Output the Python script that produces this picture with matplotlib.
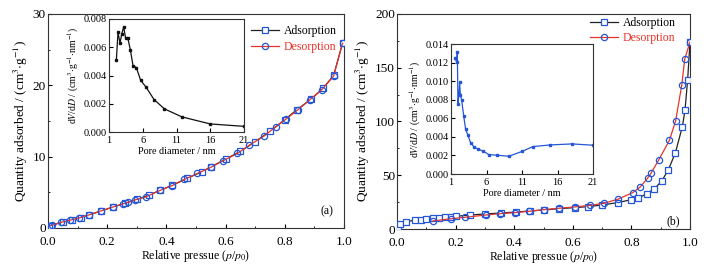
import matplotlib
matplotlib.use("Agg")
import matplotlib.pyplot as plt
from matplotlib.ticker import MultipleLocator

plt.rcParams['font.family'] = ['Liberation Serif', 'DejaVu Serif']
plt.rcParams['mathtext.fontset'] = 'stix'

# (a) isotherme
a_ads_x = [0.01, 0.05, 0.08, 0.11, 0.14, 0.18, 0.22, 0.26, 0.30, 0.34, 0.38, 0.42, 0.47,
           0.52, 0.55, 0.60, 0.65, 0.70, 0.75, 0.80, 0.84, 0.89, 0.93, 0.965, 0.995]
a_ads_y = [0.35, 0.85, 1.15, 1.45, 1.85, 2.4, 2.95, 3.45, 4.0, 4.6, 5.3, 6.0, 6.95,
           7.9, 8.55, 9.65, 10.75, 12.1, 13.55, 15.2, 16.55, 18.1, 19.6, 21.4, 25.9]
a_des_x = [0.995, 0.965, 0.925, 0.885, 0.845, 0.805, 0.77, 0.73, 0.68, 0.64, 0.59, 0.55, 0.505,
           0.46, 0.42, 0.38, 0.33, 0.295, 0.27, 0.255, 0.22, 0.18, 0.14, 0.105, 0.075, 0.045, 0.015, 0.005]
a_des_y = [25.9, 21.3, 19.4, 18.0, 16.6, 15.3, 14.2, 12.9, 11.6, 10.45, 9.4, 8.5, 7.65,
           6.8, 5.95, 5.3, 4.35, 3.95, 3.6, 3.4, 2.95, 2.4, 1.85, 1.4, 1.1, 0.8, 0.4, 0.3]

# (a) distribution des pores
a_psd_d = [2.09, 2.33, 2.63, 2.88, 3.17, 3.47, 3.77, 4.16, 4.56, 5.05, 5.69, 6.48, 7.67,
           9.2, 11.8, 16.0, 21.0]
a_psd_v = [0.00508, 0.00707, 0.00629, 0.00693, 0.00743, 0.00662, 0.00669, 0.00582, 0.0047,
           0.00456, 0.00366, 0.00318, 0.0023, 0.00164, 0.00107, 0.00057, 0.0004]

# (b) isotherme
b_ads_x = [0.003, 0.011, 0.03, 0.06, 0.083, 0.10, 0.123, 0.145, 0.164, 0.184, 0.20, 0.25, 0.30,
           0.356, 0.405, 0.455, 0.50, 0.553, 0.606, 0.653, 0.70, 0.753, 0.80, 0.824, 0.852,
           0.878, 0.903, 0.926, 0.95, 0.974, 0.983, 0.992, 1.0]
b_ads_y = [1.5, 4.7, 6.8, 8.1, 8.7, 9.3, 9.9, 10.6, 10.9, 11.2, 11.8, 13.0, 14.0,
           14.9, 15.8, 16.8, 17.7, 18.9, 19.9, 20.8, 22.4, 24.5, 27.3, 28.6, 32.9,
           37.3, 44.4, 55.0, 70.8, 95.3, 110.6, 139.0, 174.0]
b_des_x = [1.0, 0.982, 0.972, 0.951, 0.93, 0.894, 0.867, 0.855, 0.83, 0.805, 0.753, 0.705,
           0.66, 0.606, 0.553, 0.502, 0.451, 0.403, 0.352, 0.303, 0.233, 0.185, 0.123]
b_des_y = [174.0, 158.0, 134.0, 100.6, 82.6, 64.6, 51.9, 47.2, 39.1, 33.9, 27.6, 23.9,
           22.0, 20.5, 19.3, 18.0, 16.5, 15.2, 14.3, 13.0, 10.9, 9.6, 7.5]

# (b) distribution des pores
b_psd_d = [1.61, 1.80, 1.89, 1.98, 2.12, 2.22, 2.31, 2.50, 2.78, 3.06, 3.39, 3.76, 4.23,
           4.84, 5.50, 6.34, 7.51, 9.15, 11.07, 12.52, 14.96, 18.05, 21.0]
b_psd_v = [0.01245, 0.01202, 0.01317, 0.00756, 0.00864, 0.0099, 0.00853, 0.00795, 0.0063,
           0.00482, 0.00417, 0.00335, 0.00292, 0.00266, 0.00248, 0.00209, 0.00202, 0.00191,
           0.00245, 0.00295, 0.00313, 0.00324, 0.0031]

blue = '#2456d6'
red = '#e8332a'
W, H = 706, 269

fig = plt.figure(figsize=(W / 100, H / 100), dpi=100)


def box(l, t, r, b):
    return [l / W, 1 - b / H, (r - l) / W, (b - t) / H]


def style(ax, fs, xpad=3):
    ax.tick_params(which='both', direction='in', labelsize=fs)
    ax.tick_params(axis='x', pad=xpad)
    ax.tick_params(axis='y', pad=1.5)
    ax.tick_params(which='major', length=3)
    ax.tick_params(which='minor', length=1.5)
    for s in ax.spines.values():
        s.set_linewidth(0.8)
        s.set_color('#333333')


def isotherm(rect, ads_x, ads_y, des_x, des_y, ymax, ystep, label, lab_xy, leg_anchor):
    ax = fig.add_axes(box(*rect))
    ax.plot(ads_x, ads_y, '-', color='#222222', lw=0.9, marker='s', ms=4,
            mfc='white', mec=blue, mew=0.9, label='Adsorption', zorder=3)
    ax.plot(des_x, des_y, '-', color=red, lw=0.9, marker='o', ms=4.5,
            mfc='none', mec=blue, mew=0.9, label='Desorption', zorder=4)
    ax.set_xlim(0, 1)
    ax.set_ylim(0, ymax)
    ax.xaxis.set_major_locator(MultipleLocator(0.2))
    ax.xaxis.set_minor_locator(MultipleLocator(0.1))
    ax.yaxis.set_major_locator(MultipleLocator(ystep))
    ax.yaxis.set_minor_locator(MultipleLocator(ystep / 2))
    ax.xaxis.set_major_formatter(plt.FormatStrFormatter('%.1f'))
    style(ax, 9.5, xpad=6)
    ax.set_xlabel(r'Relative pressue ($p$/$p_0$)', fontsize=8.5, labelpad=0)
    ax.set_ylabel(r'Quantity adsorbed / (cm$^3$$\cdot$g$^{-1}$)', fontsize=9.5, labelpad=2)
    leg = ax.legend(loc='upper right', bbox_to_anchor=leg_anchor, frameon=False, fontsize=8.5,
                    handlelength=2.4, handletextpad=0.4, borderaxespad=0.2, labelspacing=0.3)
    for t, c in zip(leg.get_texts(), ['black', red]):
        t.set_color(c)
    ax.text(lab_xy[0], lab_xy[1], label, transform=ax.transAxes, fontsize=8.5,
            ha='right', va='bottom')
    return ax


def inset(rect, d, v, ymax, ystep, color):
    ax = fig.add_axes(box(*rect))
    ax.plot(d, v, '-', color=color, lw=0.9, marker='s', ms=2, mfc=color, mec=color)
    ax.set_xlim(1, 21)
    ax.set_ylim(0, ymax)
    ax.set_xticks([1, 6, 11, 16, 21])
    ax.yaxis.set_major_locator(MultipleLocator(ystep))
    ax.yaxis.set_major_formatter(plt.FormatStrFormatter('%.3f'))
    style(ax, 7.5)
    ax.set_xlabel('Pore diameter / nm', fontsize=7.3, labelpad=1)
    ax.set_ylabel(r'd$V$/d$D$ / (cm$^3$$\cdot$g$^{-1}$$\cdot$nm$^{-1}$)', fontsize=7, labelpad=2)
    return ax


isotherm((48, 14, 344, 228), a_ads_x, a_ads_y, a_des_x, a_des_y, 30, 10, '(a)',
         (0.965, 0.05), (1.0, 0.98))
inset((109, 19, 244, 132), a_psd_d, a_psd_v, 0.008, 0.002, '#111111')

isotherm((397, 14, 690, 229), b_ads_x, b_ads_y, b_des_x, b_des_y, 200, 50, '(b)',
         (0.965, 0.01), (0.975, 1.02))
inset((451, 44, 593, 174), b_psd_d, b_psd_v, 0.014, 0.002, blue)

fig.savefig('out.png', dpi=100)
